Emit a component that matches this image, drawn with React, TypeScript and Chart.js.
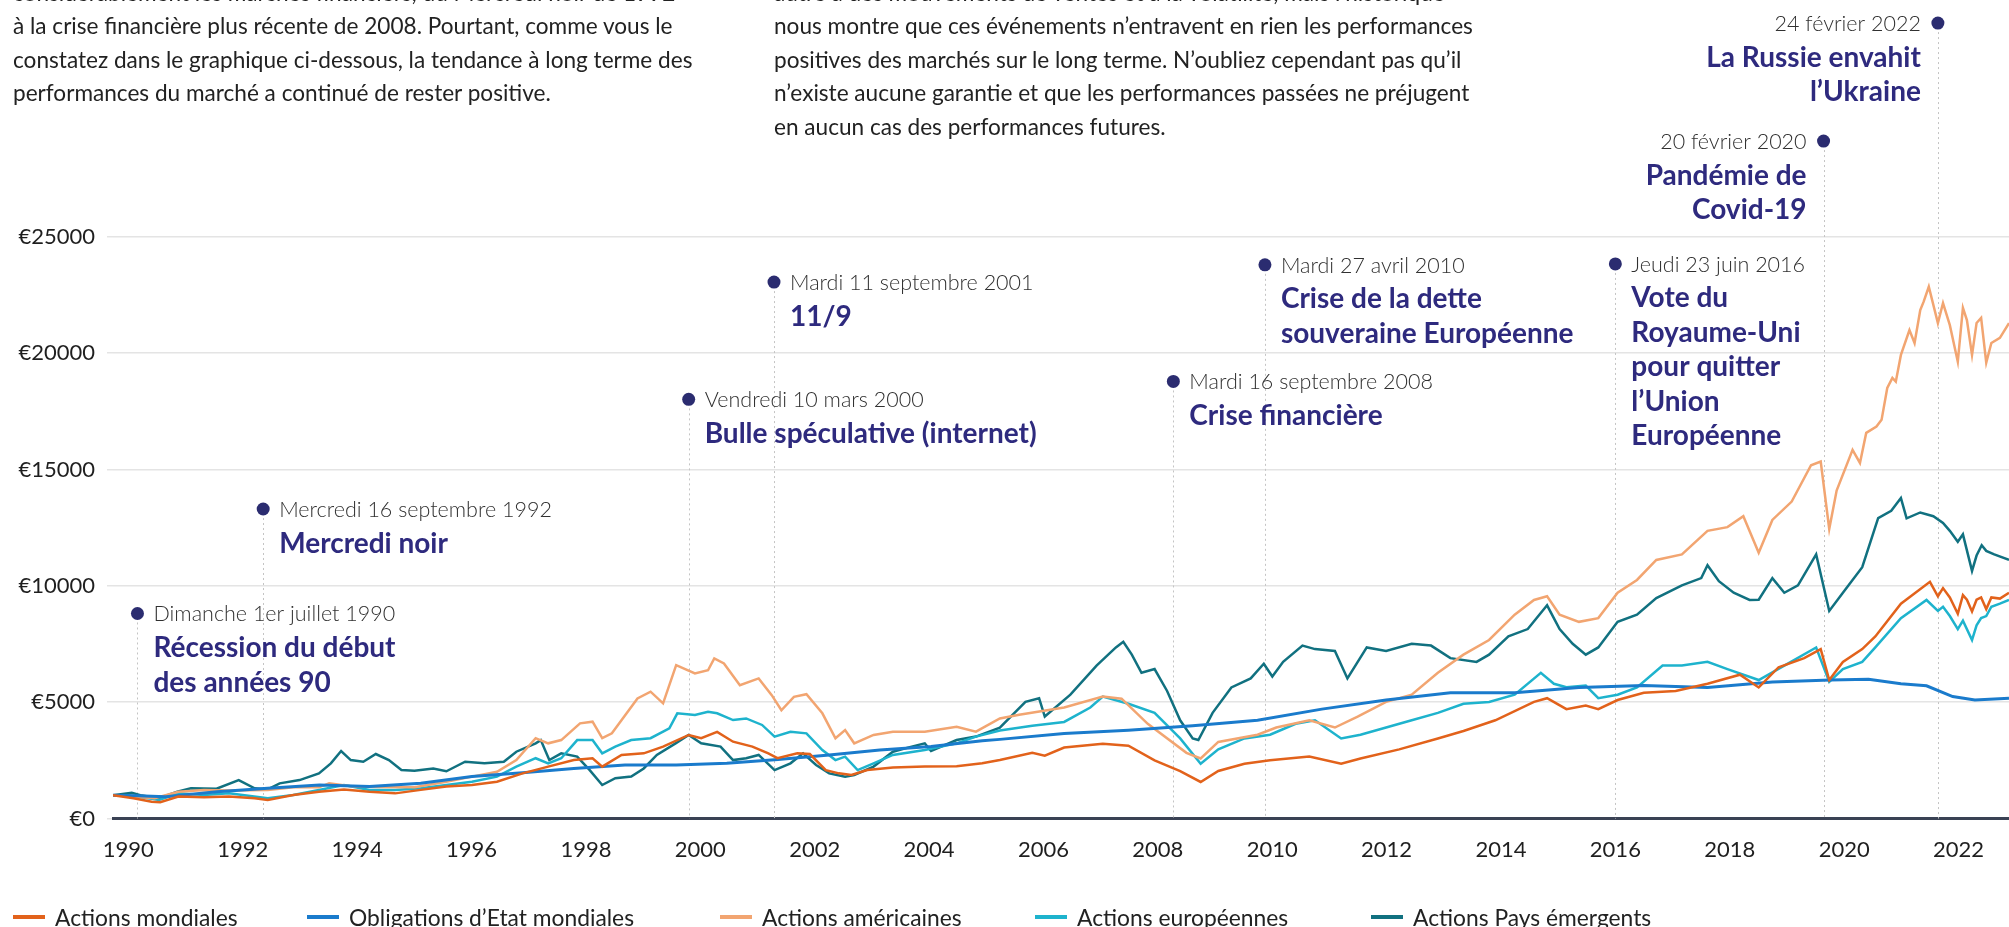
import React, { useEffect, useRef } from "react";
import { Chart, registerables } from "chart.js";

Chart.register(...registerables);

const FONT = "Lato, 'Noto Sans', Arial, sans-serif";

// ---------- axes ----------
const X_MIN = 1990.07;
const X_MAX = 2023.4;
const Y_MAX = 25000;
const Y_STEP = 5000;
const YEAR_LABELS = [1990, 1992, 1994, 1996, 1998, 2000, 2002, 2004, 2006, 2008, 2010, 2012, 2014, 2016, 2018, 2020, 2022];
const LABEL_SHIFT = 0.34; // year labels sit slightly right of 1 January
const LABEL_DRIFT = 0.0054;

// ---------- series (decimal year, value in €) ----------
const worldEquities: [number, number][] = [
  [1990.07, 1000], [1990.43, 870], [1990.75, 720], [1990.9, 700], [1991.22, 940], [1991.67, 910], [1992.11, 940],
  [1992.56, 870], [1992.79, 800], [1993.24, 1010], [1993.69, 1150], [1994.13, 1250], [1994.58, 1150], [1995.03, 1080],
  [1995.48, 1230], [1995.93, 1370], [1996.38, 1440], [1996.82, 1580], [1997.27, 1940], [1997.72, 2230], [1998.17, 2510],
  [1998.5, 2590], [1998.67, 2230], [1999.01, 2730], [1999.4, 2800], [1999.74, 3090], [2000.19, 3590], [2000.41, 3450],
  [2000.69, 3720], [2000.97, 3300], [2001.31, 3090], [2001.59, 2800], [2001.75, 2590], [2002.1, 2800], [2002.32, 2770],
  [2002.6, 2080], [2002.83, 1940], [2003.05, 1870], [2003.33, 2080], [2003.78, 2190], [2004.34, 2230], [2004.9, 2250],
  [2005.35, 2370], [2005.66, 2510], [2006.23, 2820], [2006.45, 2700], [2006.79, 3050], [2007.47, 3210], [2007.92, 3130],
  [2008.38, 2500], [2008.83, 2040], [2009.19, 1570], [2009.5, 2040], [2009.96, 2350], [2010.41, 2500], [2011.1, 2660],
  [2011.66, 2350], [2012.0, 2580], [2012.68, 2970], [2013.36, 3440], [2013.81, 3760], [2014.37, 4220], [2015.05, 5010],
  [2015.28, 5170], [2015.62, 4700], [2015.96, 4850], [2016.18, 4700], [2016.52, 5090], [2016.98, 5400], [2017.54, 5480],
  [2018.1, 5790], [2018.67, 6180], [2019.0, 5630], [2019.35, 6500], [2019.8, 6890], [2020.09, 7280], [2020.24, 5950],
  [2020.48, 6730], [2020.82, 7280], [2021.05, 7820], [2021.5, 9230], [2022.01, 10170], [2022.15, 9550], [2022.24, 9900],
  [2022.36, 9500], [2022.5, 8800], [2022.59, 9600], [2022.66, 9400], [2022.75, 8900], [2022.83, 9400], [2022.91, 9500],
  [2023.0, 9000], [2023.09, 9500], [2023.24, 9450], [2023.4, 9700],
];

const worldBonds: [number, number][] = [
  [1990.07, 1000], [1990.5, 980], [1991.0, 940], [1991.9, 1150], [1992.79, 1300], [1993.7, 1440], [1994.58, 1370],
  [1995.48, 1510], [1996.38, 1800], [1997.27, 1970], [1998.17, 2150], [1999.07, 2300], [1999.97, 2300], [2000.86, 2370],
  [2001.76, 2540], [2002.66, 2730], [2003.55, 2940], [2004.45, 3090], [2005.35, 3340], [2005.66, 3400], [2006.79, 3650],
  [2007.92, 3790], [2009.05, 3990], [2010.19, 4220], [2011.32, 4700], [2012.45, 5090], [2013.58, 5400], [2014.71, 5400],
  [2015.84, 5630], [2016.98, 5710], [2018.1, 5630], [2019.24, 5870], [2020.26, 5950], [2020.93, 5980], [2021.5, 5790],
  [2021.95, 5700], [2022.41, 5240], [2022.8, 5090], [2023.4, 5170],
];

const usEquities: [number, number][] = [
  [1990.07, 1000], [1990.43, 940], [1990.8, 870], [1991.22, 1150], [1991.67, 1225], [1992.11, 1200], [1992.79, 1225],
  [1993.24, 1340], [1993.69, 1340], [1993.87, 1510], [1994.31, 1370], [1994.75, 1350], [1995.37, 1340], [1995.93, 1580],
  [1996.38, 1800], [1996.82, 2010], [1997.16, 2510], [1997.5, 3450], [1997.72, 3230], [1997.95, 3370], [1998.28, 4090],
  [1998.5, 4160], [1998.67, 3450], [1998.84, 3660], [1999.29, 5160], [1999.52, 5450], [1999.74, 4950], [1999.97, 6590],
  [2000.3, 6230], [2000.53, 6370], [2000.64, 6880], [2000.81, 6660], [2001.09, 5730], [2001.42, 6020], [2001.65, 5300],
  [2001.82, 4650], [2002.04, 5230], [2002.26, 5340], [2002.54, 4520], [2002.77, 3450], [2002.94, 3800], [2003.1, 3230],
  [2003.44, 3590], [2003.78, 3730], [2004.34, 3730], [2004.9, 3940], [2005.24, 3730], [2005.66, 4300], [2006.0, 4460],
  [2006.79, 4770], [2007.47, 5240], [2007.8, 5150], [2008.26, 4070], [2008.94, 2820], [2009.19, 2580], [2009.5, 3290],
  [2010.19, 3600], [2010.52, 3910], [2011.1, 4220], [2011.55, 3910], [2011.95, 4380], [2012.45, 5010], [2012.9, 5320],
  [2013.36, 6260], [2013.81, 7040], [2014.26, 7670], [2014.71, 8760], [2015.05, 9390], [2015.28, 9550], [2015.5, 8760],
  [2015.84, 8450], [2016.18, 8610], [2016.52, 9700], [2016.86, 10250], [2017.2, 11110], [2017.65, 11350], [2018.1, 12360],
  [2018.45, 12520], [2018.73, 12990], [2019.0, 11420], [2019.24, 12830], [2019.58, 13620], [2019.92, 15180], [2020.09, 15340],
  [2020.24, 12440], [2020.37, 14090], [2020.65, 15840], [2020.78, 15280], [2020.89, 16570], [2021.07, 16840], [2021.16, 17130],
  [2021.26, 18500], [2021.35, 18930], [2021.41, 18770], [2021.5, 19920], [2021.65, 20990], [2021.74, 20430], [2021.84, 21850],
  [2021.9, 22210], [2021.99, 22850], [2022.15, 21290], [2022.24, 22150], [2022.36, 21200], [2022.5, 19630], [2022.59, 21940],
  [2022.66, 21420], [2022.75, 19920], [2022.83, 21290], [2022.91, 21510], [2023.0, 19590], [2023.09, 20430], [2023.24, 20650],
  [2023.4, 21290],
];

const europeEquities: [number, number][] = [
  [1990.07, 1000], [1990.43, 970], [1990.88, 800], [1991.22, 1080], [1991.67, 1010], [1992.11, 1080], [1992.79, 870],
  [1993.24, 1010], [1993.69, 1225], [1994.13, 1440], [1994.58, 1225], [1995.03, 1225], [1995.48, 1300], [1995.93, 1440],
  [1996.38, 1580], [1996.82, 1800], [1997.16, 2230], [1997.5, 2590], [1997.72, 2370], [1997.95, 2590], [1998.23, 3370],
  [1998.5, 3370], [1998.67, 2800], [1998.9, 3090], [1999.18, 3370], [1999.52, 3450], [1999.85, 3870], [1999.99, 4520],
  [2000.3, 4450], [2000.53, 4590], [2000.69, 4520], [2000.97, 4230], [2001.2, 4300], [2001.48, 4020], [2001.7, 3520],
  [2001.98, 3730], [2002.26, 3660], [2002.54, 2940], [2002.77, 2510], [2002.94, 2660], [2003.16, 2080], [2003.44, 2370],
  [2003.78, 2730], [2004.34, 2940], [2004.9, 3230], [2005.24, 3520], [2005.66, 3780], [2006.23, 3990], [2006.79, 4150],
  [2007.25, 4770], [2007.47, 5240], [2007.92, 4930], [2008.38, 4540], [2008.83, 3440], [2009.19, 2350], [2009.5, 2970],
  [2009.96, 3440], [2010.41, 3600], [2010.86, 4070], [2011.2, 4220], [2011.66, 3440], [2012.0, 3600], [2012.45, 3910],
  [2012.9, 4220], [2013.36, 4540], [2013.81, 4930], [2014.26, 5010], [2014.71, 5320], [2015.17, 6260], [2015.4, 5790],
  [2015.62, 5640], [2015.96, 5710], [2016.18, 5170], [2016.52, 5320], [2016.86, 5630], [2017.31, 6570], [2017.65, 6570],
  [2018.1, 6730], [2018.45, 6420], [2019.0, 5950], [2019.45, 6570], [2020.01, 7350], [2020.24, 5870], [2020.48, 6420],
  [2020.82, 6730], [2021.05, 7350], [2021.5, 8610], [2021.95, 9390], [2022.15, 8920], [2022.24, 9100], [2022.36, 8700],
  [2022.5, 8140], [2022.59, 8500], [2022.75, 7670], [2022.83, 8300], [2022.91, 8610], [2023.0, 8700], [2023.09, 9100],
  [2023.24, 9230], [2023.4, 9390],
];

const emergingEquities: [number, number][] = [
  [1990.07, 1000], [1990.4, 1110], [1990.55, 1000], [1990.88, 870], [1991.2, 1150], [1991.44, 1300], [1991.89, 1280],
  [1992.28, 1650], [1992.56, 1300], [1992.79, 1250], [1993.0, 1510], [1993.35, 1650], [1993.69, 1940], [1993.9, 2370],
  [1994.08, 2900], [1994.25, 2510], [1994.47, 2440], [1994.69, 2770], [1994.92, 2510], [1995.14, 2080], [1995.37, 2050],
  [1995.7, 2150], [1995.93, 2030], [1996.26, 2440], [1996.6, 2370], [1996.94, 2440], [1997.16, 2870], [1997.5, 3230],
  [1997.59, 3370], [1997.74, 2510], [1997.95, 2800], [1998.23, 2660], [1998.45, 2080], [1998.67, 1440], [1998.9, 1730],
  [1999.18, 1800], [1999.4, 2150], [1999.63, 2730], [1999.96, 3230], [2000.19, 3590], [2000.41, 3230], [2000.75, 3090],
  [2000.97, 2510], [2001.2, 2590], [2001.42, 2730], [2001.7, 2080], [2001.98, 2370], [2002.2, 2800], [2002.43, 2300],
  [2002.66, 1940], [2002.94, 1800], [2003.1, 1870], [2003.44, 2230], [2003.78, 2870], [2004.11, 3090], [2004.34, 3230],
  [2004.45, 2900], [2004.9, 3370], [2005.24, 3520], [2005.66, 3900], [2006.11, 5010], [2006.35, 5170], [2006.45, 4380],
  [2006.9, 5320], [2007.36, 6570], [2007.7, 7350], [2007.83, 7590], [2007.98, 7040], [2008.15, 6260], [2008.38, 6420],
  [2008.6, 5480], [2008.83, 4220], [2009.05, 3440], [2009.15, 3370], [2009.4, 4540], [2009.73, 5630], [2010.07, 6020],
  [2010.3, 6650], [2010.45, 6100], [2010.64, 6730], [2010.98, 7430], [2011.2, 7280], [2011.55, 7200], [2011.77, 6020],
  [2012.11, 7350], [2012.45, 7200], [2012.9, 7510], [2013.24, 7430], [2013.58, 6890], [2014.04, 6730], [2014.26, 7040],
  [2014.6, 7830], [2014.94, 8140], [2015.28, 9160], [2015.5, 8140], [2015.73, 7510], [2015.96, 7040], [2016.18, 7350],
  [2016.52, 8450], [2016.86, 8760], [2017.2, 9470], [2017.65, 10020], [2017.99, 10330], [2018.1, 10880], [2018.3, 10200],
  [2018.56, 9700], [2018.84, 9390], [2019.0, 9400], [2019.24, 10330], [2019.45, 9700], [2019.69, 10020], [2020.01, 11350],
  [2020.24, 8920], [2020.48, 9700], [2020.82, 10800], [2021.1, 12910], [2021.33, 13220], [2021.5, 13770], [2021.6, 12900],
  [2021.84, 13150], [2022.07, 12990], [2022.24, 12700], [2022.36, 12360], [2022.5, 11890], [2022.59, 12210], [2022.75, 10640],
  [2022.83, 11300], [2022.92, 11740], [2023.0, 11500], [2023.14, 11350], [2023.4, 11110],
];

const SERIES_NAMES = ["Actions mondiales", "Obligations d’Etat mondiales", "Actions américaines", "Actions européennes", "Actions Pays émergents"];
const SERIES_COLORS = ["#e2621b", "#1a7bcc", "#f2a571", "#1eb3cd", "#117180"];
const SERIES_DATA = [worldEquities, worldBonds, usEquities, europeEquities, emergingEquities];
const LEGEND_LEFT = [13, 307, 720, 1035, 1371];

// ---------- events ----------
const EVENT_DATES = [1990.5, 1992.71, 2000.19, 2001.69, 2008.71, 2010.32, 2016.48, 2020.14, 2022.15];
const EVENT_DAYS = [
  "Dimanche 1er juillet 1990", "Mercredi 16 septembre 1992", "Vendredi 10 mars 2000", "Mardi 11 septembre 2001",
  "Mardi 16 septembre 2008", "Mardi 27 avril 2010", "Jeudi 23 juin 2016", "20 février 2020", "24 février 2022",
];
const EVENT_TITLES = [
  ["Récession du début", "des années 90"], ["Mercredi noir"], ["Bulle spéculative (internet)"], ["11/9"],
  ["Crise financière"], ["Crise de la dette", "souveraine Européenne"],
  ["Vote du", "Royaume-Uni", "pour quitter", "l’Union", "Européenne"], ["Pandémie de", "Covid-19"],
  ["La Russie envahit", "l’Ukraine"],
];
const EVENT_LEVELS = [8810, 13300, 18010, 23050, 18780, 23790, 23830, 29110, 34180];
const EVENT_SIDES = ["left", "left", "left", "left", "left", "left", "left", "right", "right"];

// ---------- text ----------
const LEFT_TEXT = [
  "considérablement les marchés financiers, du Mercredi noir de 1992",
  "à la crise financière plus récente de 2008. Pourtant, comme vous le",
  "constatez dans le graphique ci-dessous, la tendance à long terme des",
  "performances du marché a continué de rester positive.",
];
const RIGHT_TEXT = [
  "autre à des mouvements de ventes et à la volatilité, mais l’historique",
  "nous montre que ces événements n’entravent en rien les performances",
  "positives des marchés sur le long terme. N’oubliez cependant pas qu’il",
  "n’existe aucune garantie et que les performances passées ne préjugent",
  "en aucun cas des performances futures.",
];

const eventsPlugin = {
  id: "events",
  beforeDatasetsDraw(chart: any) {
    const { ctx, scales, chartArea } = chart;
    ctx.save();
    ctx.strokeStyle = "#c4c4c4";
    ctx.lineWidth = 1;
    ctx.setLineDash([2, 3]);
    EVENT_DATES.forEach((d, i) => {
      const px = Math.round(scales.x.getPixelForValue(d)) + 0.5;
      const py = scales.y.getPixelForValue(EVENT_LEVELS[i]);
      ctx.beginPath();
      ctx.moveTo(px, py + 9);
      ctx.lineTo(px, chartArea.bottom);
      ctx.stroke();
    });
    ctx.restore();
  },
  afterDraw(chart: any) {
    const { ctx, scales } = chart;
    ctx.save();
    EVENT_DATES.forEach((d, i) => {
      const px = scales.x.getPixelForValue(d);
      const py = scales.y.getPixelForValue(EVENT_LEVELS[i]);
      ctx.fillStyle = "#2b2c70";
      ctx.beginPath();
      ctx.arc(px, py, 6.5, 0, Math.PI * 2);
      ctx.fill();
      const right = EVENT_SIDES[i] === "right";
      ctx.textAlign = right ? "right" : "left";
      ctx.textBaseline = "middle";
      const tx = right ? px - 17 : px + 16;
      ctx.fillStyle = "#303030";
      ctx.font = `300 21.5px ${FONT}`;
      ctx.fillText(EVENT_DAYS[i], tx, py + 1);
      ctx.fillStyle = "#2e2a7e";
      ctx.font = `700 28px ${FONT}`;
      EVENT_TITLES[i].forEach((line, j) => {
        ctx.fillText(line, tx, py + 34.5 + j * 34.5);
      });
    });
    ctx.restore();
  },
};

export default function App() {
  const ref = useRef<HTMLCanvasElement>(null);

  useEffect(() => {
    if (!ref.current) return;
    const chart = new Chart(ref.current, {
      type: "line",
      data: {
        datasets: SERIES_DATA.map((arr, i) => ({
          label: SERIES_NAMES[i],
          data: arr.map(([x, y]) => ({ x, y })),
          borderColor: SERIES_COLORS[i],
          backgroundColor: SERIES_COLORS[i],
          borderWidth: i === 1 ? 3 : 2.5,
          pointRadius: 0,
          tension: 0,
          fill: false,
        })),
      },
      options: {
        responsive: false,
        animation: false,
        devicePixelRatio: 1,
        layout: { padding: { top: 236.7, left: 0, right: 0, bottom: 63.5 } },
        plugins: { legend: { display: false }, tooltip: { enabled: false }, title: { display: false } },
        scales: {
          x: {
            type: "linear",
            min: X_MIN,
            max: X_MAX,
            grid: { display: false, drawTicks: false },
            border: { display: true, color: "#3a4254", width: 3 },
            afterBuildTicks: (scale: any) => {
              scale.ticks = YEAR_LABELS.map((yr) => ({ value: yr + LABEL_SHIFT + (yr - YEAR_LABELS[0]) * LABEL_DRIFT }));
            },
            afterFit: (scale: any) => {
              scale.height = 45;
            },
            ticks: {
              autoSkip: false,
              maxRotation: 0,
              padding: 18,
              color: "#1f1f1f",
              font: { family: FONT, size: 22 },
              callback: (_v: any, idx: number) => String(YEAR_LABELS[idx]),
            },
          },
          y: {
            min: 0,
            max: Y_MAX,
            grid: { color: "#e4e4e4", lineWidth: 1.5, drawTicks: true, tickLength: 6 },
            border: { display: false },
            afterFit: (scale: any) => {
              scale.width = 113;
            },
            ticks: {
              stepSize: Y_STEP,
              padding: 12,
              color: "#1f1f1f",
              font: { family: FONT, size: 22 },
              callback: (v: any) => "€" + v,
            },
          },
        },
      },
      plugins: [eventsPlugin],
    } as any);
    return () => chart.destroy();
  }, []);

  const textStyle: React.CSSProperties = {
    position: "absolute",
    whiteSpace: "nowrap",
    fontSize: 22.6,
    lineHeight: "33.4px",
    color: "#222",
  };

  return (
    <div
      style={{
        position: "absolute",
        left: 0,
        top: 0,
        width: 2009,
        height: 927,
        overflow: "hidden",
        background: "#fff",
        fontFamily: FONT,
      }}
    >
      <canvas ref={ref} width={2009} height={927} style={{ position: "absolute", left: 0, top: 0, display: "block" }} />
      {LEFT_TEXT.map((t, i) => (
        <div key={"l" + i} style={{ ...textStyle, left: 13, top: 26 + (i - 1) * 33.4 - 16.7 }}>
          {t}
        </div>
      ))}
      {RIGHT_TEXT.map((t, i) => (
        <div key={"r" + i} style={{ ...textStyle, left: 774, top: 26 + (i - 1) * 33.4 - 16.7 }}>
          {t}
        </div>
      ))}
      {SERIES_NAMES.map((name, i) => (
        <div
          key={"g" + i}
          style={{
            position: "absolute",
            left: LEGEND_LEFT[i],
            top: 901,
            height: 32,
            display: "flex",
            alignItems: "center",
            whiteSpace: "nowrap",
            fontSize: 22.8,
            color: "#222",
          }}
        >
          <span style={{ display: "inline-block", width: 32, height: 4, background: SERIES_COLORS[i], marginRight: 10 }} />
          <span>{name}</span>
        </div>
      ))}
    </div>
  );
}
